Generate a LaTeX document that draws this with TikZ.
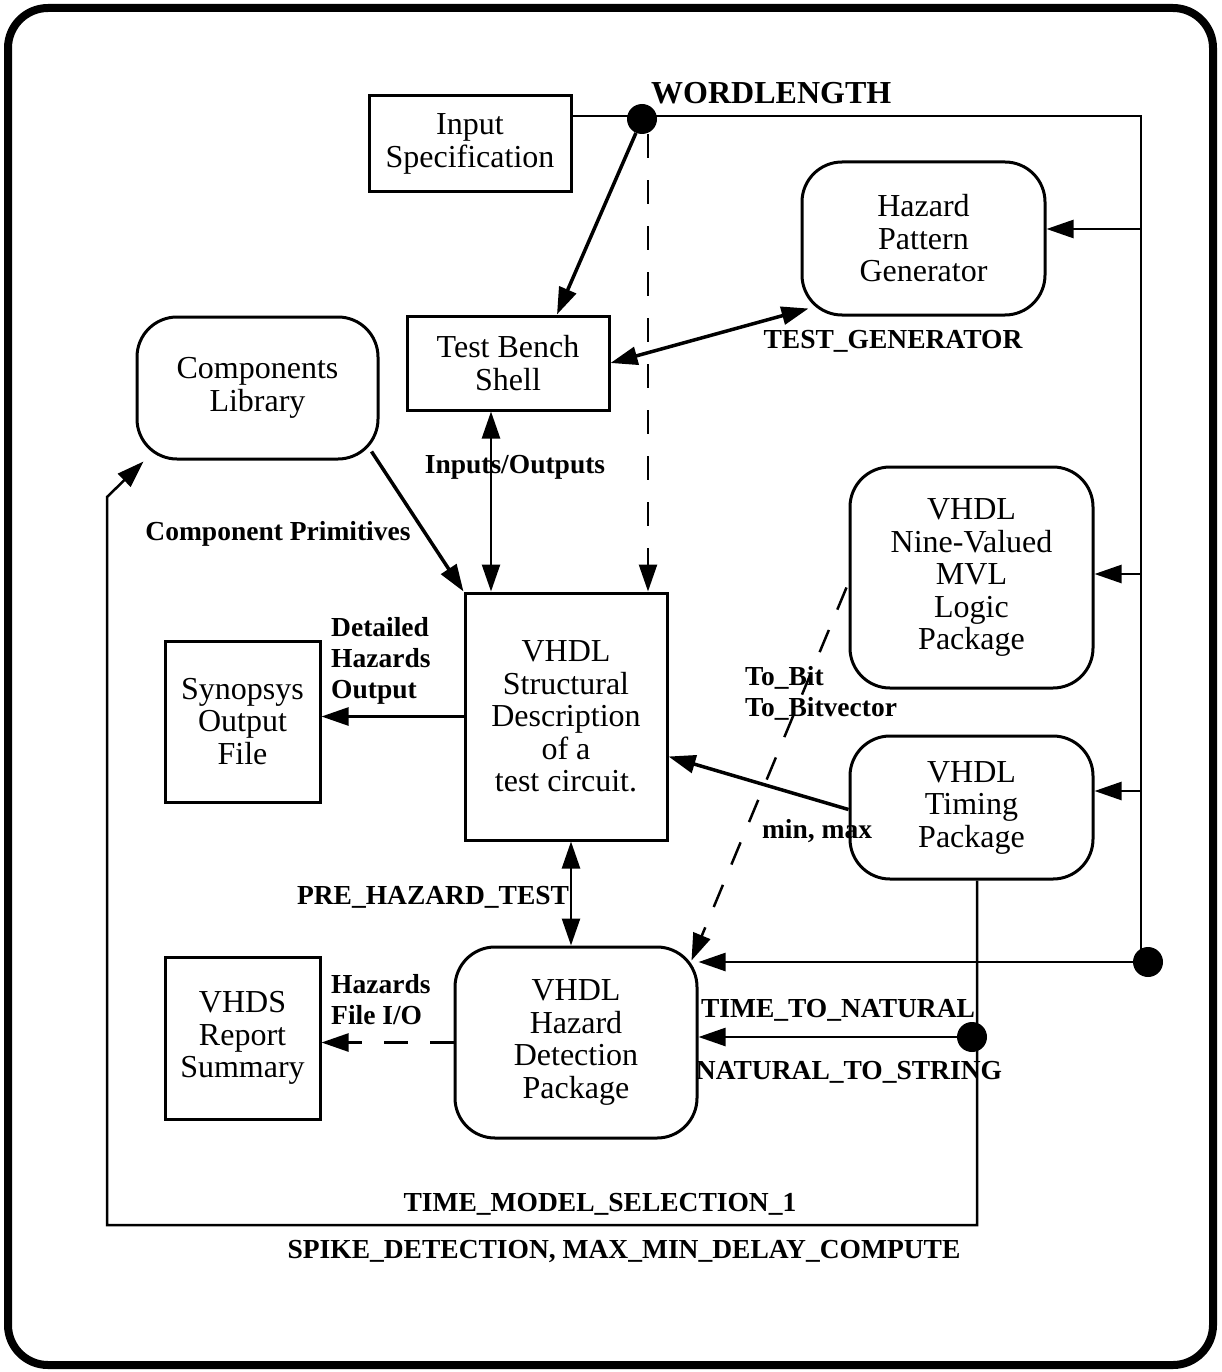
\documentclass[tikz,border=0pt]{standalone}
\usepackage{fontspec}
\setmainfont{Liberation Serif}
\usetikzlibrary{arrows.meta}
\begin{document}
\begin{tikzpicture}[x=1pt,y=-1pt,
  box/.style={draw,line width=3pt,rectangle,inner sep=0pt,align=center,font=\fontsize{32}{32.5}\selectfont},
  rbox/.style={box,rounded corners=40pt},
  lbl/.style={inner sep=0pt,align=left,font=\bfseries\fontsize{27.5}{31}\selectfont},
  dot/.style={circle,fill=black,inner sep=0pt,minimum size=30pt},
  tip/.style={-{Triangle[length=27pt,width=18pt]}},
  dtip/.style={{Triangle[length=27pt,width=18pt]}-{Triangle[length=27pt,width=18pt]}},
  conn/.style={line width=3.5pt},
  thin/.style={line width=2.5pt},
  dsh/.style={dash pattern=on 24pt off 22pt}]
\useasboundingbox (0,0) rectangle (1221,1372);
\draw[line width=8pt,rounded corners=40pt] (8,8) rectangle (1213,1365);

% nodes
\node[box,minimum width=202pt,minimum height=96pt] (ins) at (470,144) {Input\\Specification};
\node[rbox,minimum width=243pt,minimum height=153pt] (hpg) at (923.5,238.5) {Hazard\\Pattern\\Generator};
\node[box,minimum width=202pt,minimum height=94pt] (tb) at (508,363) {Test Bench\\Shell};
\node[rbox,minimum width=241pt,minimum height=142pt] (cl) at (257.5,388) {Components\\Library};
\node[box,minimum width=202pt,minimum height=247pt] (vs) at (566,716.5) {VHDL\\Structural\\Description\\of a\\test circuit.};
\node[box,minimum width=155pt,minimum height=161pt] (syn) at (242.5,721.5) {Synopsys\\Output\\File};
\node[rbox,minimum width=243pt,minimum height=221pt] (nv) at (971.5,577.5) {VHDL\\Nine-Valued\\MVL\\Logic\\Package};
\node[rbox,minimum width=243pt,minimum height=143pt] (tp) at (971.5,807.5) {VHDL\\Timing\\Package};
\node[rbox,minimum width=242pt,minimum height=191pt] (hd) at (576,1042.5) {VHDL\\Hazard\\Detection\\Package};
\node[box,minimum width=155pt,minimum height=162pt] (vr) at (242.5,1038) {VHDS\\Report\\Summary};

\node[dot] (d1) at (642,119) {};
\node[dot] (d2) at (1148,962) {};
\node[dot] (d3) at (972,1037) {};

% coordinates
\coordinate (wl) at (642,116);
\coordinate (rt) at (1141,116);
\coordinate (rb) at (1141,950);
\coordinate (r1) at (1141,229);
\coordinate (r2) at (1141,574);
\coordinate (r3) at (1141,791);
\coordinate (lb1) at (977,1225);
\coordinate (lb2) at (107,1225);
\coordinate (lb3) at (107,497);

% bus from input specification
\draw[thin] (ins.east |- wl) -- (wl) -- (rt) -- (rb);
\draw[thin,tip] (r1) -- (r1 -| hpg.east);
\draw[thin,tip] (r2) -- (r2 -| nv.east);
\draw[thin,tip] (r3) -- (r3 -| tp.east);
\draw[thin,tip] (d2.west) -- (d2 -| hd.east);
\draw[thin,tip] (d3.west) -- (d3 -| hd.east);

% wordlength to test bench
\draw[conn,tip] (d1) -- ([xshift=49pt]tb.north);
% dashed wordlength to structural
\draw[thin,dsh,tip] ([xshift=6pt]d1.south) -- ([xshift=6pt]d1.south |- vs.north);
% test generator
\draw[conn,dtip] (tb.east) -- ([shift={(8,-8)}]hpg.south west);
% components
\draw[conn,tip] ([shift={(-8,-9)}]cl.south east) -- (vs.north west);
% inputs/outputs
\draw[thin,dtip] ([xshift=-17pt]tb.south) -- ([xshift=-17pt]tb.south |- vs.north);
% detailed hazards output
\draw[thin,tip] (vs.west) -- (vs.west -| syn.east);
% min max
\draw[conn,tip] ([shift={(0,2)}]tp.west) -- ([shift={(0,40)}]vs.east);
% to_bit dashed
\draw[thin,dsh,tip] ([shift={(-2,10)}]nv.west) -- ([shift={(-7,15)}]hd.north east);
% pre hazard test
\draw[thin,dtip] ([xshift=5pt]vs.south) -- ([xshift=5pt]vs.south |- hd.north);
% hazards file io
\draw[thin,dsh,tip] (hd.west) -- (hd.west -| vr.east);
% time model loop
\draw[thin,tip] ([xshift=5.5pt]tp.south) -- (lb1) -- (lb2) -- (lb3) -- ([shift={(8,1)}]cl.south west);

% labels
\node[lbl,anchor=west,font=\bfseries\fontsize{32}{32}\selectfont] (lwl) at (651,93) {WORDLENGTH};
\node[lbl] (ltg) at (893,341) {TEST\_GENERATOR};
\node[lbl] (lio) at (515,467) {Inputs/Outputs};
\node[lbl] (lcp) at (278,534) {Component Primitives};
\node[lbl,anchor=west] (ldh) at (331,661) {Detailed\\Hazards\\Output};
\node[lbl,anchor=west] (ltb) at (745,693.5) {To\_Bit\\To\_Bitvector};
\node[lbl] (lmm) at (817,831) {min, max};
\node[lbl] (lph) at (433,897) {PRE\_HAZARD\_TEST};
\node[lbl,anchor=west] (lhf) at (331,1000) {Hazards\\File I/O};
\node[lbl] (ltn) at (838,1010) {TIME\_TO\_NATURAL};
\node[lbl] (lns) at (849,1072) {NATURAL\_TO\_STRING};
\node[lbl] (ltm) at (600,1204) {TIME\_MODEL\_SELECTION\_1};
\node[lbl] (lsd) at (624,1252) {SPIKE\_DETECTION, MAX\_MIN\_DELAY\_COMPUTE};
\end{tikzpicture}
\end{document}
